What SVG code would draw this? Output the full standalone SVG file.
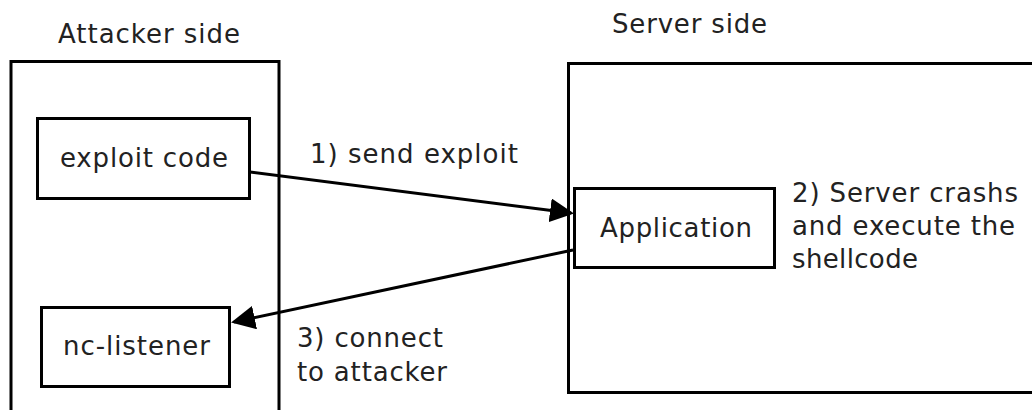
<svg xmlns="http://www.w3.org/2000/svg" width="1032" height="410" viewBox="0 0 1032 410">
  <defs>
    <style>
      .box { fill: none; stroke: #000; stroke-width: 3; }
      .lbl { font-family: "DejaVu Sans", sans-serif; font-size: 26px; fill: #222; }
      .edge { stroke: #000; stroke-width: 3; fill: none; }
    </style>
    <marker id="arrow" markerWidth="8" markerHeight="8" refX="7" refY="4" orient="auto" markerUnits="strokeWidth">
      <path d="M0,0 L8,4 L0,8 z" fill="#000"/>
    </marker>
  </defs>
  <rect width="1032" height="410" fill="#fff"/>

  <!-- attacker side container -->
  <g id="attacker-side">
    <text class="lbl" x="58" y="43" textLength="182" lengthAdjust="spacing">Attacker side</text>
    <path class="box" d="M11,412 V61.5 H279 V412"/>
  </g>

  <!-- server side container -->
  <g id="server-side">
    <text class="lbl" x="612" y="33" textLength="155" lengthAdjust="spacing">Server side</text>
    <path class="box" d="M1034,63.5 H568.5 V392.5 H1034"/>
  </g>

  <g id="exploit-code">
    <rect class="box" x="37.5" y="118.5" width="212" height="80"/>
    <text class="lbl" x="60" y="167" textLength="168" lengthAdjust="spacing">exploit code</text>
  </g>

  <g id="nc-listener">
    <rect class="box" x="41.5" y="307.5" width="188" height="79"/>
    <text class="lbl" x="63" y="355" textLength="147" lengthAdjust="spacing">nc-listener</text>
  </g>

  <g id="application">
    <rect class="box" x="574.5" y="188.5" width="200" height="79"/>
    <text class="lbl" x="600" y="237" textLength="152" lengthAdjust="spacing">Application</text>
  </g>

  <g id="server-note">
    <text class="lbl" x="792" y="202" textLength="226" lengthAdjust="spacing">2) Server crashs</text>
    <text class="lbl" x="792" y="235" textLength="223" lengthAdjust="spacing">and execute the</text>
    <text class="lbl" x="792" y="268" textLength="126" lengthAdjust="spacing">shellcode</text>
  </g>

  <g id="connectors">
    <line class="edge" x1="250" y1="172" x2="571" y2="213" marker-end="url(#arrow)"/>
    <text class="lbl" x="310" y="163" textLength="208" lengthAdjust="spacing">1) send exploit</text>
    <line class="edge" x1="573" y1="250" x2="234" y2="322" marker-end="url(#arrow)"/>
    <text class="lbl" x="297" y="347" textLength="146" lengthAdjust="spacing">3) connect</text>
    <text class="lbl" x="297" y="381" textLength="150" lengthAdjust="spacing">to attacker</text>
  </g>
</svg>
